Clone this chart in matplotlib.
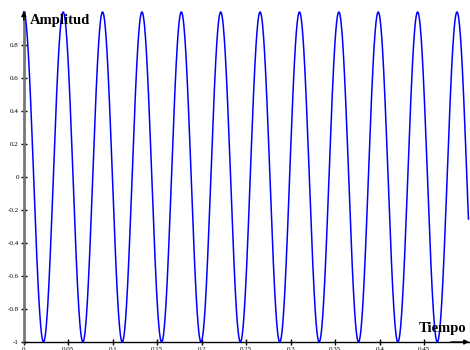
import numpy as np
import matplotlib
matplotlib.use("Agg")
import matplotlib.pyplot as plt

# signal parameters
amplitude = 1.0
frequency = 22.6   # Hz
t_end = 0.4996
n_samples = 2000

x_ticks = [0, 0.05, 0.1, 0.15, 0.2, 0.25, 0.3, 0.35, 0.4, 0.45]
x_tick_labels = ["0", "0.05", "0.1", "0.15", "0.2", "0.25", "0.3", "0.35", "0.4", "0.45"]
y_ticks = [-1, -0.8, -0.6, -0.4, -0.2, 0, 0.2, 0.4, 0.6, 0.8]
y_tick_labels = ["-1", "-0.8", "-0.6", "-0.4", "-0.2", "0", "0.2", "0.4", "0.6", "0.8"]

t = np.linspace(0, t_end, n_samples)
y = amplitude * np.cos(2 * np.pi * frequency * t)

plt.rcParams['font.family'] = ['Liberation Serif', 'DejaVu Serif']

fig = plt.figure(figsize=(4.7, 3.5), dpi=100)
ax = fig.add_axes([23.8 / 470, 1 - 342 / 350, 445 / 470, 330 / 350])
ax.plot(t, y, color='#0000ff', lw=1.1, clip_on=False, zorder=3)
ax.set_xlim(0, 0.5)
ax.set_ylim(-1, 1)

for s in ['top', 'right']:
    ax.spines[s].set_visible(False)
ax.spines['left'].set_color('#777777')
ax.spines['left'].set_linewidth(2)
ax.spines['bottom'].set_color('black')
ax.spines['bottom'].set_linewidth(1)

ax.set_xticks(x_ticks)
ax.set_xticklabels(x_tick_labels)
ax.set_yticks(y_ticks)
ax.set_yticklabels(y_tick_labels)
ax.tick_params(axis='both', direction='inout', length=5, width=1, color='black',
               labelsize=5, pad=1)

# arrows
ax.annotate('', xy=(0, 1.005), xytext=(0, 0.95), xycoords='data',
            arrowprops=dict(arrowstyle='-|>', color='black', lw=1,
                            mutation_scale=7, shrinkA=0, shrinkB=0),
            annotation_clip=False)
ax.annotate('', xy=(0.5005, -1), xytext=(0.48, -1), xycoords='data',
            arrowprops=dict(arrowstyle='-|>', color='black', lw=1,
                            mutation_scale=7, shrinkA=0, shrinkB=0),
            annotation_clip=False)

ax.text(0.007, 0.99, 'Amplitud', fontsize=10.5, fontweight='bold', ha='left', va='top')
ax.text(0.4975, -0.96, 'Tiempo', fontsize=10.5, fontweight='bold', ha='right', va='bottom')

fig.savefig('out.png', dpi=100)
